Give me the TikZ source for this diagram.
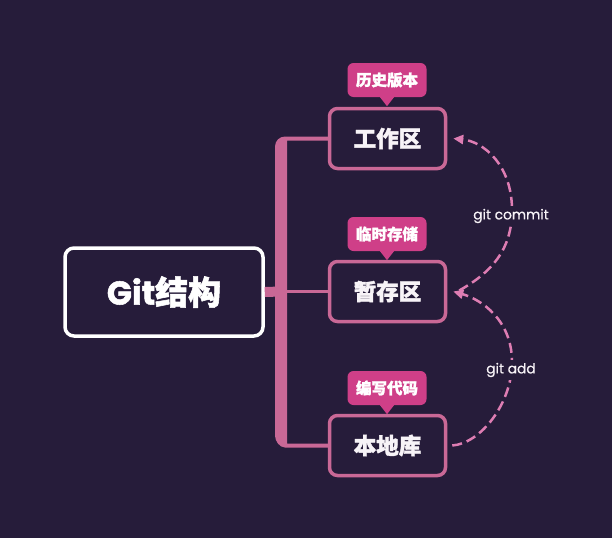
\documentclass[tikz,border=0pt]{standalone}
\usepackage{fontspec}
\setmainfont{Poppins}
\newfontfamily\cjk{Noto Sans CJK SC}[BoldFeatures={FakeBold=1.6}]
\newfontfamily\pop{Poppins}[BoldFeatures={FakeBold=1.6}]
\newfontfamily\popl{Poppins}[FakeBold=0.6]
\usetikzlibrary{arrows.meta,calc}
\definecolor{bg}{HTML}{261C3A}
\definecolor{pinkline}{HTML}{C96896}
\definecolor{tagfill}{HTML}{CF3F88}
\definecolor{dashpink}{HTML}{DE7DB3}
\definecolor{txt}{HTML}{F7F3F7}
\tikzset{
  rootbox/.style={draw=white, line width=3.5pt, rounded corners=9pt, fill=bg,
    minimum width=198pt, minimum height=88pt, inner sep=0pt, text=white},
  areabox/.style={draw=pinkline, line width=3.5pt, rounded corners=8pt, fill=bg,
    minimum width=116pt, minimum height=60pt, inner sep=0pt, text=txt,
    font=\cjk\bfseries\fontsize{22.5}{22.5}\selectfont},
  tagbox/.style={fill=tagfill, rounded corners=6pt, minimum width=79pt,
    minimum height=34pt, inner sep=0pt, text=white,
    font=\cjk\bfseries\fontsize{15.5}{15.5}\selectfont},
  gitarrow/.style={draw=dashpink, line width=2.5pt, dash pattern=on 10pt off 5pt,
    -{Triangle[length=10pt,width=9pt]}},
  gitlabel/.style={fill=bg, inner sep=3pt, text=txt,
    font=\popl\fontsize{13.8}{13.8}\selectfont},
}
\begin{document}
\begin{tikzpicture}[x=1pt,y=-1pt]
\fill[bg] (0,0) rectangle (612,538);
\useasboundingbox (0,0) rectangle (612,538);

% nodes
\node[rootbox] (root) at (164,292) {{\pop\bfseries\fontsize{33}{33}\selectfont Git}{\cjk\bfseries\fontsize{33}{33}\selectfont 结构}};
\node[areabox] (s1) at (387.5,138.5) {工作区};
\node[areabox] (s2) at (387.5,291.5) {暂存区};
\node[areabox] (s3) at (387.5,445.5) {本地库};
\node[tagbox] (t1) at (387,80) {历史版本};
\node[tagbox] (t2) at (387,234) {临时存储};
\node[tagbox] (t3) at (387,388) {编写代码};
\foreach \t in {t1,t2,t3}{
  \fill[tagfill] ([xshift=-7pt]\t.south) -- ([xshift=7pt]\t.south) -- ([yshift=-9pt]\t.south) -- cycle;
}

% trunk (tree connector drawn as one shape)
\coordinate (hub) at (281,291.5);
\fill[pinkline] ($(s1.west)+(0,-2)$) -- (285,136.5)
   .. controls (279.5,136.5) and (275,141) .. (275,146.5)
   -- (275,435.5) .. controls (275,441) and (279.5,447.5) .. (285,447.5)
   -- ($(s3.west)+(0,2)$) -- ($(s3.west)+(0,-2)$) -- (287,443.5) -- (287,140.5)
   -- ($(s1.west)+(0,2)$) -- cycle;
\draw[draw=pinkline, line width=3.5pt] (hub) -- (s2.west);
\draw[draw=pinkline, line width=10pt] (root.east) -- (hub);

% dashed arrows
\coordinate (ga) at (512,362);
\coordinate (gc) at (512,210);
\draw[gitarrow] ([xshift=5pt]s3.east) .. controls +(28,-2) and +(0,42) .. (ga)
   .. controls +(0,-42) and +(28,8) .. ([xshift=6pt]s2.east);
\draw[gitarrow] ([xshift=12pt,yshift=1pt]s2.east) .. controls +(32,-18) and +(0,40) .. (gc)
   .. controls +(0,-45) and +(30,3) .. ([xshift=6pt]s1.east);
\node[gitlabel] (lc) at (511,216) {git commit};
\node[gitlabel] (la) at (511,370) {git add};
\end{tikzpicture}
\end{document}
